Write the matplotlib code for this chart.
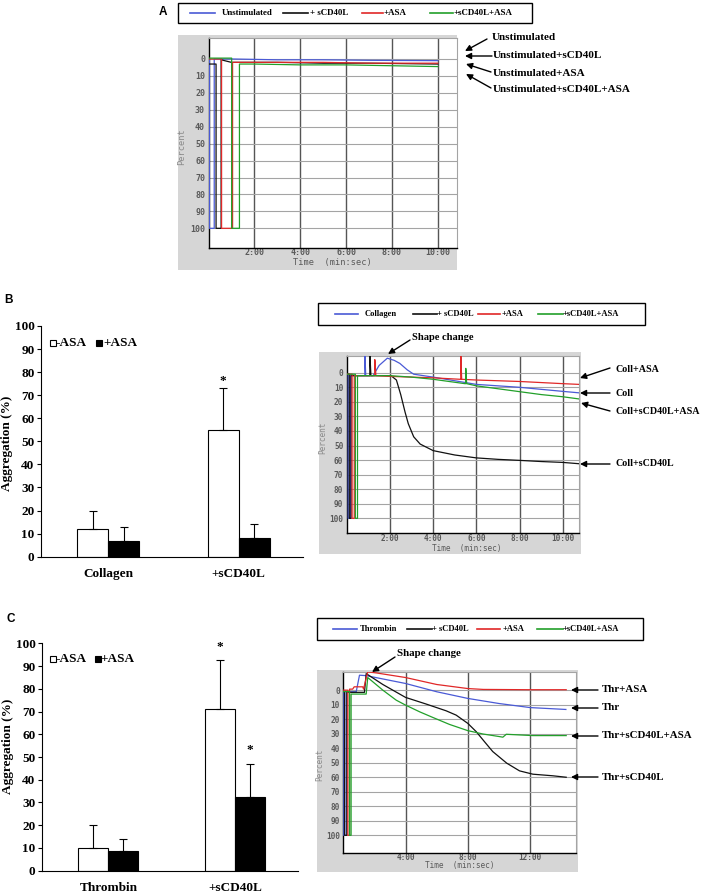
import numpy as np
import matplotlib
matplotlib.use('Agg')
import matplotlib.pyplot as plt
from matplotlib.patches import Rectangle, FancyArrowPatch
from matplotlib.lines import Line2D

# ---------------- data ----------------
# Panel A traces (time in min, percent)
A_unstim_t = [0.0, 0.04, 0.04, 0.25, 0.25, 1.0, 3.0, 5.0, 7.0, 10.0]
A_unstim_v = [0.5, 0.5, 100, 100, 0.0, 0.0, 0.5, 0.5, 0.8, 1.0]
A_cd40_t = [0.0, 0.33, 0.33, 0.55, 0.55, 1.0, 3.0, 5.0, 7.0, 10.0]
A_cd40_v = [3.0, 3.0, 100, 100, 0.5, 2.0, 2.0, 2.5, 2.5, 3.0]
A_asa_t = [0.0, 0.57, 0.57, 1.05, 1.05, 1.5, 3.0, 5.0, 7.0, 10.0]
A_asa_v = [0.0, 0.0, 100, 100, 2.0, 2.0, 2.0, 2.0, 2.5, 2.5]
A_both_t = [0.0, 1.01, 1.01, 1.35, 1.35, 2.0, 4.0, 6.0, 8.0, 10.0]
A_both_v = [-0.5, -0.5, 100, 100, 3.0, 3.0, 3.5, 3.5, 4.0, 4.5]

# Panel B traces
B_coll_t = [0, 0.07, 0.07, 0.18, 0.18, 0.8, 0.84, 0.84, 0.88, 1.22, 1.5, 1.88, 2.2, 2.46, 2.8, 3.1, 4, 6, 8, 10, 10.75]
B_coll_v = [1, 1, 100, 100, 2, 2, 2, -14, 2, 2, -5, -10, -8.5, -6.4, -2, 1, 3, 8, 10, 12.8, 13.8]
B_cd40_t = [0, 0.12, 0.12, 0.2, 0.2, 1.0, 1.07, 1.07, 1.12, 2.05, 2.3, 2.5, 2.7, 2.85, 3.1, 3.4, 3.8, 4.0, 5, 6, 7, 8, 9, 10, 10.75]
B_cd40_v = [1, 1, 100, 100, 2, 2, 2, -14, 2, 2, 5, 15, 27, 35, 44, 49, 52, 53.5, 56.5, 58.5, 59.5, 60.2, 61, 61.6, 62.5]
B_asa_t = [0, 0.25, 0.25, 0.35, 0.35, 1.25, 1.3, 1.3, 1.35, 2, 4, 5.25, 5.28, 5.28, 5.32, 6, 8, 10, 10.75]
B_asa_v = [1, 1, 100, 100, 2, 2, 2, -9, 2, 2.5, 3.5, 4.5, 4.5, -13, 4.5, 5, 6, 7.5, 8]
B_both_t = [0, 0.4, 0.4, 0.5, 0.5, 2, 3, 4, 5.47, 5.51, 5.51, 5.55, 6, 7, 8, 9, 10, 10.75]
B_both_v = [1, 1, 100, 100, 2, 2, 3, 4.5, 7.5, 7.5, -3, 7.5, 9, 11, 13, 15, 16.5, 18]

# Panel C traces
C_thr_t = [0, 0.03, 0.03, 0.18, 0.18, 0.83, 1.04, 1.47, 4.0, 6.0, 8.0, 10.0, 12.0, 14.3]
C_thr_v = [1, 1, 100, 100, 1.1, 1.1, -10.3, -10, -4.6, 1.1, 5.7, 9.2, 12.0, 13.3]
C_cd40_t = [0, 0.08, 0.08, 0.23, 0.23, 1.36, 1.47, 2.54, 4.0, 5.33, 6.6, 7.25, 8.0, 8.54, 9.07, 9.6, 10.5, 11.32, 12.18, 13.46, 14.32]
C_cd40_v = [1, 1, 100, 100, 1.5, 1.5, -11.4, -3.9, 5.0, 9.6, 14.2, 17.2, 22.9, 28.6, 35.5, 42.3, 50.3, 55.6, 57.9, 59.0, 60.0]
C_asa_t = [0, 0.29, 0.29, 0.4, 0.4, 0.6, 0.7, 1.25, 1.3, 1.57, 2.1, 4.0, 6.0, 8.0, 9.0, 12.0, 14.32]
C_asa_v = [0, 0, 100, 100, -0.7, -0.7, -2.3, -2.3, -0.7, -12.6, -11.9, -8.7, -3.9, -1.1, -0.5, -0.3, -0.3]
C_both_t = [0, 0.4, 0.4, 0.5, 0.5, 1.47, 1.57, 2.54, 3.4, 4.0, 4.9, 5.75, 6.82, 8.0, 8.97, 10.04, 10.25, 10.47, 12.18, 14.32]
C_both_v = [1, 1, 100, 100, 2.7, 2.7, -8.7, 0, 6.9, 10.3, 14.9, 18.8, 23.6, 27.9, 30.2, 32.0, 32.4, 30.4, 31.3, 31.3]

# Bar charts
B_cats = ['Collagen', '+sCD40L']
B_minus = [12, 55]
B_minus_err = [8, 18]
B_plus = [7, 8]
B_plus_err = [6, 6]
C_cats = ['Thrombin', '+sCD40L']
C_minus = [10, 71]
C_minus_err = [10.3, 21.5]
C_plus = [8.5, 32.5]
C_plus_err = [5.5, 14.5]

y_ticks = list(range(0, 101, 10))
A_xticks = [2, 4, 6, 8, 10]
A_xticklabels = ['2:00', '4:00', '6:00', '8:00', '10:00']
C_xticks = [4, 8, 12]
C_xticklabels = ['4:00', '8:00', '12:00']

BLUE = '#4a5ad6'
BLACK = '#111111'
RED = '#e02828'
GREEN = '#22a02a'

# ---------------- figure ----------------
W, H = 709, 893
fig = plt.figure(figsize=(W / 100, H / 100), dpi=100)
fig.patch.set_facecolor('white')

SERIF = 'Liberation Serif'
SANS = 'Liberation Sans'
MONO = 'DejaVu Sans Mono'


def F(x, y):
    return (x / W, 1 - y / H)


def rect(l, t, r, b):
    return [l / W, 1 - b / H, (r - l) / W, (b - t) / H]


def arrow(x0, y0, x1, y1, ms=9):
    a = FancyArrowPatch(F(x0, y0), F(x1, y1), transform=fig.transFigure,
                        arrowstyle='-|>', mutation_scale=ms, color='black',
                        lw=1.0, shrinkA=0, shrinkB=0)
    fig.add_artist(a)


def ftext(x, y, s, size=7.5, ha='left', va='center', family=SERIF):
    fig.text(x / W, 1 - y / H, s, fontsize=size, ha=ha, va=va,
             family=family, weight='bold')


def legend_box(l, t, r, b, items, size=6.3):
    fig.add_artist(Rectangle(F(l, b), (r - l) / W, (b - t) / H,
                             transform=fig.transFigure, fill=False,
                             ec='black', lw=1.0))
    yc = (t + b) / 2
    for x0, x1, c, tx, lab in items:
        fig.add_artist(Line2D([x0 / W, x1 / W], [1 - yc / H] * 2,
                              transform=fig.transFigure, color=c, lw=1.2))
        ftext(tx, yc, lab, size=size)


def trace_panel(gray, box, xmax, ytop, ybot, xt, xtl, series, tick_fs,
                pcoords, tcoords, xpad, lab_fs):
    gl, gt, gr, gb = gray
    fig.add_artist(Rectangle(F(gl, gb), (gr - gl) / W, (gb - gt) / H,
                             transform=fig.transFigure, fc='#d6d6d6',
                             ec='none', zorder=0))
    ax = fig.add_axes(rect(*box))
    ax.set_facecolor('white')
    for t, v, c in series:
        ax.plot(t, v, color=c, lw=0.9, zorder=3)
    ax.set_xlim(0, xmax)
    ax.set_ylim(ybot, ytop)
    ax.set_yticks(y_ticks)
    ax.set_yticklabels([str(v) for v in y_ticks])
    ax.set_xticks(xt)
    ax.set_xticklabels(xtl)
    ax.grid(axis='y', color='#a4a4a4', lw=0.8)
    ax.grid(axis='x', color='#555555', lw=1.0)
    ax.set_axisbelow(True)
    for s in ['left', 'bottom']:
        ax.spines[s].set_color('black')
        ax.spines[s].set_linewidth(1.0)
    for s in ['top', 'right']:
        ax.spines[s].set_color('#a4a4a4')
        ax.spines[s].set_linewidth(0.8)
    ax.tick_params(length=0, labelsize=tick_fs, labelcolor='#5a5a5a')
    ax.tick_params(axis='y', pad=2.5)
    ax.tick_params(axis='x', pad=xpad)
    for lab in ax.get_xticklabels() + ax.get_yticklabels():
        lab.set_family(MONO)
        lab.set_weight('bold')
    ax.set_ylabel('Percent', family=MONO, fontsize=lab_fs, color='#8a8a8a')
    ax.yaxis.set_label_coords(*pcoords)
    ax.set_xlabel('Time  (min:sec)', family=MONO, fontsize=lab_fs, color='#5a5a5a')
    ax.xaxis.set_label_coords(*tcoords)
    return ax


def bar_panel(box, cats, m, me, p, pe, xl, xr, stars, leg, ylab_coords):
    ax = fig.add_axes(rect(*box))
    x = np.arange(len(cats))
    w = 0.238
    ekw = dict(lw=0.8, capthick=0.8, ecolor='black')
    ax.bar(x - w / 2, m, w, color='white', edgecolor='black', lw=0.8,
           yerr=[np.zeros(len(m)), me], capsize=3, error_kw=ekw)
    ax.bar(x + w / 2, p, w, color='black', edgecolor='black', lw=0.8,
           yerr=[np.zeros(len(p)), pe], capsize=3, error_kw=ekw)
    ax.set_xlim(xl, xr)
    ax.set_ylim(0, 100)
    ax.set_yticks(y_ticks)
    ax.set_xticks(x)
    ax.set_xticklabels(cats)
    for s in ['top', 'right']:
        ax.spines[s].set_visible(False)
    for s in ['left', 'bottom']:
        ax.spines[s].set_linewidth(0.8)
    ax.tick_params(axis='y', direction='out', length=3, width=0.8, pad=1.5,
                   labelsize=9.5)
    ax.tick_params(axis='x', length=0, pad=8, labelsize=9.5)
    for lab in ax.get_xticklabels() + ax.get_yticklabels():
        lab.set_family(SERIF)
        lab.set_weight('bold')
    ax.set_ylabel('Aggregation (%)', family=SERIF, weight='bold', fontsize=9.5)
    ax.yaxis.set_label_coords(*ylab_coords)
    for sx, sy in stars:
        ax.text(sx, sy, '*', ha='center', va='baseline', fontsize=9.5,
                family=SERIF, weight='bold', clip_on=False)
    (m1x, t1x, m2x, t2x, ly) = leg
    ax.plot([m1x], [ly], marker='s', ms=4.5, mfc='white', mec='black', mew=0.8,
            transform=ax.transAxes, clip_on=False)
    ax.plot([m2x], [ly], marker='s', ms=4.5, mfc='black', mec='black', mew=0.8,
            transform=ax.transAxes, clip_on=False)
    ax.text(t1x, ly, '-ASA', transform=ax.transAxes, ha='left', va='center',
            fontsize=9.5, family=SERIF, weight='bold')
    ax.text(t2x, ly, '+ASA', transform=ax.transAxes, ha='left', va='center',
            fontsize=9.5, family=SERIF, weight='bold')
    return ax


# ---------------- Panel A ----------------
ftext(163, 12, 'A', size=8.5, ha='center', family=SANS)
legend_box(178, 3, 532, 23, [
    (190, 215, BLUE, 222, 'Unstimulated'),
    (283, 308, BLACK, 310, '+ sCD40L'),
    (362, 383, RED, 383, '+ASA'),
    (430, 453, GREEN, 453, '+sCD40L+ASA'),
], size=6.4)
trace_panel((178, 35, 457, 270), (208.5, 38.3, 457, 248.3), 10.84, -12.2, 111.8,
            A_xticks, A_xticklabels,
            [(A_unstim_t, A_unstim_v, BLUE), (A_cd40_t, A_cd40_v, BLACK),
             (A_asa_t, A_asa_v, RED), (A_both_t, A_both_v, GREEN)],
            6.0, (-0.09, 0.482), (0.50, -0.046), 0.0, 6.2)
ftext(492, 38, 'Unstimulated', size=8)
arrow(487, 39, 465, 51)
ftext(493, 55, 'Unstimulated+sCD40L', size=8)
arrow(492, 56, 465, 56)
ftext(493, 73, 'Unstimulated+ASA', size=8)
arrow(491, 72, 466, 64)
ftext(493, 89, 'Unstimulated+sCD40L+ASA', size=8)
arrow(491, 88, 466, 74)

# ---------------- Panel B ----------------
ftext(8.5, 300, 'B', size=8.5, ha='center', family=SANS)
bar_panel((40.7, 326, 303, 556.7), B_cats, B_minus, B_minus_err, B_plus, B_plus_err,
          -0.518, 1.493, [(1 - 0.119, 75)],
          (0.045, 0.058, 0.224, 0.2375, 0.926), (-0.106, 0.493))
legend_box(318, 303, 645, 325, [
    (335, 358, BLUE, 365, 'Collagen'),
    (413, 437, BLACK, 437, '+ sCD40L'),
    (478, 500, RED, 502, '+ASA'),
    (538, 563, GREEN, 563, '+sCD40L+ASA'),
], size=6.1)
trace_panel((319, 352, 581, 554), (346.7, 356, 579, 533.3), 10.75, -11.5, 110.3,
            A_xticks, A_xticklabels,
            [(B_coll_t, B_coll_v, BLUE), (B_cd40_t, B_cd40_v, BLACK),
             (B_asa_t, B_asa_v, RED), (B_both_t, B_both_v, GREEN)],
            5.6, (-0.085, 0.537), (0.518, -0.062), 0.8, 5.6)
ftext(412, 338, 'Shape change', size=7.6)
arrow(410, 340, 388, 354)
ftext(615, 370, 'Coll+ASA', size=7.2)
arrow(610, 368, 580, 378)
ftext(615, 393, 'Coll', size=7.2)
arrow(610, 393, 580, 393)
ftext(615, 412, 'Coll+sCD40L+ASA', size=7.2)
arrow(610, 411, 581, 403)
ftext(615, 464, 'Coll+sCD40L', size=7.2)
arrow(610, 464, 580, 464)

# ---------------- Panel C ----------------
ftext(10.5, 619, 'C', size=8.5, ha='center', family=SANS)
bar_panel((41.7, 643.3, 298.3, 870.7), C_cats, C_minus, C_minus_err, C_plus, C_plus_err,
          -0.526, 1.5, [(1 - 0.119, 97), (1 + 0.119, 51.7)],
          (0.044, 0.0557, 0.2175, 0.229, 0.931), (-0.108, 0.545))
legend_box(317, 618, 643, 640, [
    (333, 357, BLUE, 360, 'Thrombin'),
    (407, 432, BLACK, 432, '+ sCD40L'),
    (477, 500, RED, 503, '+ASA'),
    (537, 563, GREEN, 563, '+sCD40L+ASA'),
], size=6.1)
trace_panel((317, 670, 578, 872), (343.3, 672.3, 576, 853.3), 14.95, -12.3, 112.4,
            C_xticks, C_xticklabels,
            [(C_thr_t, C_thr_v, BLUE), (C_cd40_t, C_cd40_v, BLACK),
             (C_asa_t, C_asa_v, RED), (C_both_t, C_both_v, GREEN)],
            5.6, (-0.083, 0.488), (0.50, -0.045), 0.0, 5.6)
ftext(397, 654, 'Shape change', size=7.8)
arrow(395, 657, 372, 672)
ftext(602, 690, 'Thr+ASA', size=7.8)
arrow(598, 690, 571, 690)
ftext(602, 708, 'Thr', size=7.8)
arrow(598, 708, 571, 708)
ftext(602, 736, 'Thr+sCD40L+ASA', size=7.8)
arrow(598, 736, 571, 736)
ftext(602, 777, 'Thr+sCD40L', size=7.8)
arrow(598, 777, 571, 777)

fig.savefig('out.png', dpi=100)
